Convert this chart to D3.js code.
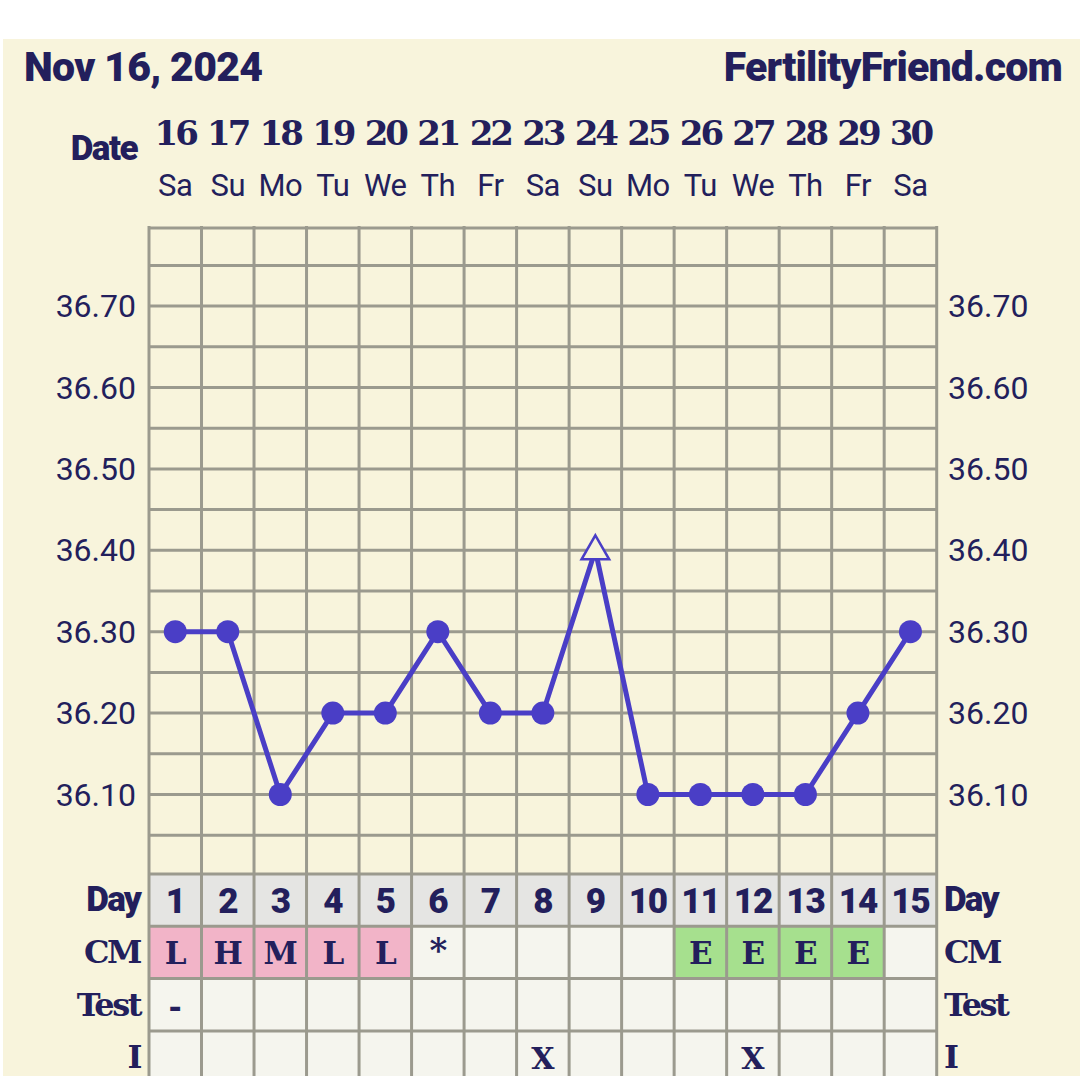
<!DOCTYPE html>
<html><head><meta charset="utf-8">
<script src="https://cdn.jsdelivr.net/npm/d3@7"></script>
<style>
html,body{margin:0;padding:0;background:#fff;}
svg{display:block;}
</style></head>
<body>
<svg id="c" width="1080" height="1076"></svg>
<script>
const title = "Nov 16, 2024";
const site = "FertilityFriend.com";
const dates = [16,17,18,19,20,21,22,23,24,25,26,27,28,29,30];
const weekdays = ["Sa","Su","Mo","Tu","We","Th","Fr","Sa","Su","Mo","Tu","We","Th","Fr","Sa"];
const cycleDays = [1,2,3,4,5,6,7,8,9,10,11,12,13,14,15];
const temps = [36.30,36.30,36.10,36.20,36.20,36.30,36.20,36.20,36.40,36.10,36.10,36.10,36.10,36.20,36.30];
const openMarker = [false,false,false,false,false,false,false,false,true,false,false,false,false,false,false];
const cm = ["L","H","M","L","L","*","","","","","E","E","E","E",""];
const cmType = ["p","p","p","p","p","","","","","","f","f","f","f",""];
const testRow = ["-","","","","","","","","","","","","","",""];
const iRow = ["","","","","","","","X","","","","X","","",""];
const tempTicks = [36.10,36.20,36.30,36.40,36.50,36.60,36.70];
const gridTemps = [36.05,36.10,36.15,36.20,36.25,36.30,36.35,36.40,36.45,36.50,36.55,36.60,36.65,36.70,36.75];
const rowLabels = ["Day","CM","Test","I"];

const NAVY = "#231f5c", PURPLE = "#4a3ec6", GRID = "#9b9a8e", CREAM = "#f8f4dc";
const svg = d3.select("#c");
svg.append("rect").attr("x",3).attr("y",39).attr("width",1077).attr("height",1037).attr("fill",CREAM);

const x = d3.scaleBand().domain(dates).range([149,936.7]).padding(0);
const cx = d => x(d) + x.bandwidth()/2;
const y = d3.scaleLinear().domain([36.10,36.30]).range([794.5,631.7]);
const gridTop = 228, gridBot = 874;
const rowH = 52.3;
const rowY = i => gridBot + i*rowH;

// title
svg.append("text").attr("x",24).attr("y",81).text(title)
  .attr("font-family","Roboto").attr("font-weight",900).attr("font-size",41).attr("letter-spacing",-0.7).attr("fill",NAVY);
svg.append("text").attr("x",1062).attr("y",81).attr("text-anchor","end").text(site)
  .attr("font-family","Roboto").attr("font-weight",900).attr("font-size",41).attr("letter-spacing",-0.8).attr("fill",NAVY);

// Date header
svg.append("text").attr("x",137).attr("y",160).attr("text-anchor","end").text("Date")
  .attr("font-family","Roboto").attr("font-weight",900).attr("font-size",35).attr("letter-spacing",-1.5).attr("fill",NAVY);
svg.append("g").selectAll("text").data(dates).join("text")
  .attr("x",d=>cx(d)).attr("y",145).attr("text-anchor","middle").text(d=>d)
  .attr("font-family","DejaVu Serif").attr("font-weight",700).attr("font-size",34).attr("letter-spacing",-3).attr("fill",NAVY);
svg.append("g").selectAll("text").data(dates).join("text")
  .attr("x",d=>cx(d)).attr("y",196).attr("text-anchor","middle").text((d,i)=>weekdays[i])
  .attr("font-family","Roboto").attr("font-size",31).attr("letter-spacing",-0.5).attr("fill",NAVY);

// grid
const g = svg.append("g");
g.selectAll("line.h").data(gridTemps).join("line")
  .attr("x1",149).attr("x2",936.7).attr("y1",d=>y(d)).attr("y2",d=>y(d))
  .attr("stroke",GRID).attr("stroke-width",3);
g.append("line").attr("x1",149).attr("x2",936.7).attr("y1",gridTop).attr("y2",gridTop).attr("stroke",GRID).attr("stroke-width",3);
const vxs = dates.map(d=>x(d)).concat([x(dates[dates.length-1])+x.bandwidth()]);
g.selectAll("line.v").data(vxs).join("line")
  .attr("x1",d=>d).attr("x2",d=>d).attr("y1",gridTop-2).attr("y2",gridBot)
  .attr("stroke",GRID).attr("stroke-width",3);

// temp labels
svg.append("g").selectAll("text").data(tempTicks).join("text")
  .attr("x",136).attr("y",d=>y(d)+11).attr("text-anchor","end").text(d=>d.toFixed(2))
  .attr("font-family","Roboto").attr("font-size",32).attr("fill",NAVY);
svg.append("g").selectAll("text").data(tempTicks).join("text")
  .attr("x",948).attr("y",d=>y(d)+11).attr("text-anchor","start").text(d=>d.toFixed(2))
  .attr("font-family","Roboto").attr("font-size",32).attr("fill",NAVY);

// table rows
const fills = {p:"#f2b4c8", f:"#a6e08e", "":"#f5f5ee"};
const rows = svg.append("g");
dates.forEach((d,i)=>{
  rows.append("rect").attr("x",x(d)).attr("y",rowY(0)).attr("width",x.bandwidth()).attr("height",rowH).attr("fill","#e5e5e3");
  rows.append("rect").attr("x",x(d)).attr("y",rowY(1)).attr("width",x.bandwidth()).attr("height",rowH).attr("fill",fills[cmType[i]]);
  rows.append("rect").attr("x",x(d)).attr("y",rowY(2)).attr("width",x.bandwidth()).attr("height",rowH).attr("fill","#f5f5ee");
  rows.append("rect").attr("x",x(d)).attr("y",rowY(3)).attr("width",x.bandwidth()).attr("height",rowH+10).attr("fill","#f5f5ee");
});
for(let r=0;r<=4;r++){
  rows.append("line").attr("x1",149).attr("x2",936.7).attr("y1",rowY(r)).attr("y2",rowY(r)).attr("stroke",GRID).attr("stroke-width",3);
}
rows.selectAll("line.vv").data(vxs).join("line")
  .attr("x1",d=>d).attr("x2",d=>d).attr("y1",gridBot).attr("y2",1076)
  .attr("stroke",GRID).attr("stroke-width",3);

rows.selectAll("text.day").data(cycleDays).join("text")
  .attr("x",(d,i)=>cx(dates[i])).attr("y",rowY(0)+39).attr("text-anchor","middle").text(d=>d)
  .attr("font-family","Roboto").attr("font-weight",900).attr("font-size",35).attr("letter-spacing",-1.2).attr("fill",NAVY);
const slab = sel => sel.attr("font-family","DejaVu Serif").attr("font-weight",700).attr("fill",NAVY);
slab(rows.selectAll("text.cm").data(cm).join("text")
  .attr("x",(d,i)=>cx(dates[i])).attr("y",(d)=> d==="*" ? rowY(1)+36 : rowY(1)+38).attr("text-anchor","middle").text(d=>d)
  .attr("font-size",d=>d==="*"?34:31).attr("letter-spacing",-1));
slab(rows.selectAll("text.test").data(testRow).join("text")
  .attr("x",(d,i)=>cx(dates[i])).attr("y",rowY(2)+38).attr("text-anchor","middle").text(d=>d).attr("font-size",32));
slab(rows.selectAll("text.iv").data(iRow).join("text")
  .attr("x",(d,i)=>cx(dates[i])).attr("y",rowY(3)+38).attr("text-anchor","middle").text(d=>d).attr("font-size",30));

// row labels
rowLabels.forEach((t,r)=>{
  const isRoboto = r===0;
  [ [140,"end"], [944,"start"] ].forEach(([xx,anc])=>{
    const tx = svg.append("text").attr("x",xx).attr("y",rowY(r)+37).attr("text-anchor",anc).text(t).attr("fill",NAVY);
    if(isRoboto) tx.attr("font-family","Roboto").attr("font-weight",900).attr("font-size",35).attr("letter-spacing",-1.8);
    else tx.attr("font-family","DejaVu Serif").attr("font-weight",700).attr("font-size",32).attr("letter-spacing",-2.5);
  });
});

// temperature line
const line = d3.line().x((d,i)=>cx(dates[i])).y(d=>y(d));
svg.append("path").datum(temps).attr("d",line).attr("fill","none").attr("stroke",PURPLE).attr("stroke-width",5).attr("stroke-linejoin","round");
svg.append("g").selectAll("circle").data(temps.map((t,i)=>({t,i})).filter(d=>!openMarker[d.i])).join("circle")
  .attr("cx",d=>cx(dates[d.i])).attr("cy",d=>y(d.t)).attr("r",11.5).attr("fill",PURPLE);
const tri = d3.symbol().type(d3.symbolTriangle).size(330);
svg.append("g").selectAll("path").data(temps.map((t,i)=>({t,i})).filter(d=>openMarker[d.i])).join("path")
  .attr("d",tri).attr("transform",d=>`translate(${cx(dates[d.i])},${y(d.t)+1})`)
  .attr("fill",CREAM).attr("stroke",PURPLE).attr("stroke-width",2.5);
</script>
</body></html>
